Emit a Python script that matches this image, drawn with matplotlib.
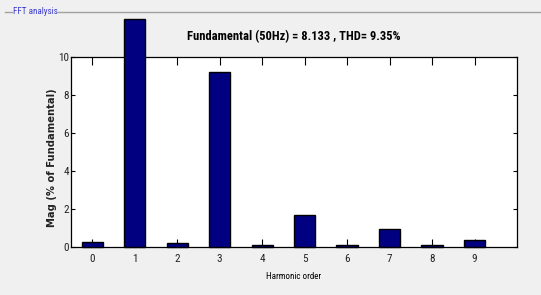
import matplotlib
matplotlib.use("Agg")
import matplotlib.pyplot as plt

orders = [0, 1, 2, 3, 4, 5, 6, 7, 8, 9]
mags = [0.23, 12.0, 0.22, 9.2, 0.08, 1.67, 0.08, 0.91, 0.08, 0.34]
yticks = [0, 2, 4, 6, 8, 10]
title = "Fundamental (50Hz) = 8.133 , THD= 9.35%"
panel_title = "FFT analysis"

narrow = ["Roboto Condensed", "DejaVu Sans"]

W, H = 541, 295
fig = plt.figure(figsize=(W / 100, H / 100), dpi=100, facecolor="#f0f0f0")
ax = fig.add_axes([71 / W, 1 - 246.7 / H, (517 - 71) / W, (246.7 - 56.7) / H])
ax.set_facecolor("white")

ax.bar(orders, mags, width=0.5, color="#000080", edgecolor="black", linewidth=1.0,
       clip_on=False, zorder=3)
ax.set_xlim(-0.5, 10)
ax.set_ylim(0, 10)
ax.set_xticks(orders)
ax.set_yticks(yticks)
ax.tick_params(axis="x", direction="in", length=5.5, width=0.8, top=True,
               labelsize=8, colors="black", labelcolor="#222222", pad=5)
ax.tick_params(axis="y", direction="in", length=3, width=0.8, right=True,
               labelsize=8, colors="black", labelcolor="#222222", pad=1.5)
for lab in ax.get_xticklabels() + ax.get_yticklabels():
    lab.set_family(narrow)
for s in ax.spines.values():
    s.set_linewidth(0.9)
    s.set_color("black")

ax.set_xlabel("Harmonic order", fontsize=6.5, family=narrow, labelpad=6)
ax.set_ylabel("Mag (% of Fundamental)", fontsize=7.2, fontweight="bold", color="#222222")
ax.yaxis.set_label_coords(-0.032, 0.47)
fig.text(294 / W, 1 - 37 / H, title, ha="center", va="center", fontsize=9,
         fontweight="bold", family=narrow)

# panel frame line and title
fig.add_artist(plt.Line2D([5 / W, 12 / W], [1 - 12 / H, 1 - 12 / H], color="#a0a0a0", lw=1))
fig.add_artist(plt.Line2D([58 / W, 1], [1 - 12 / H, 1 - 12 / H], color="#a0a0a0", lw=1))
fig.text(13 / W, 1 - 12 / H, panel_title, ha="left", va="center", fontsize=6.5,
         color="#3a3ad0", family=narrow)

fig.savefig("out.png", dpi=100, facecolor=fig.get_facecolor())
